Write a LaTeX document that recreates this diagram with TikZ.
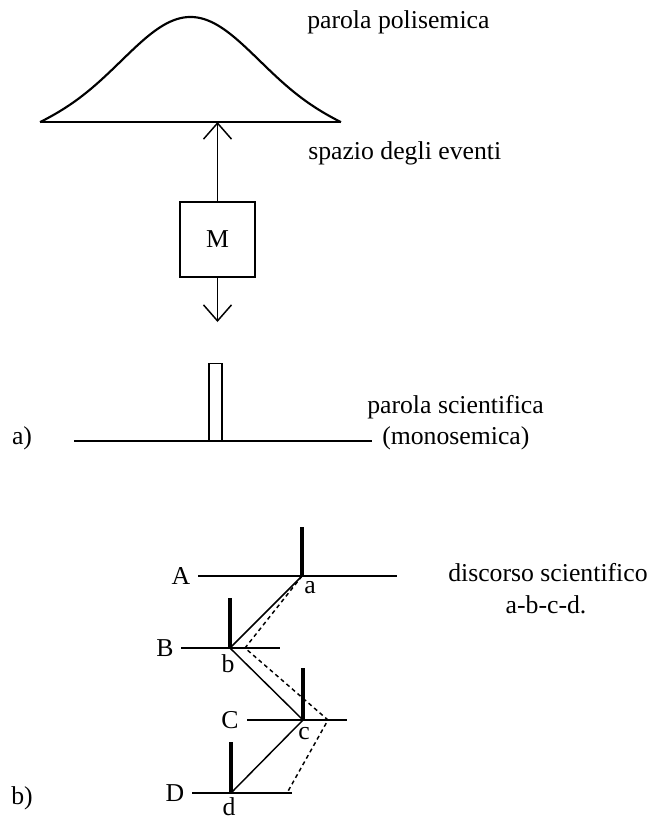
\documentclass[tikz,border=0pt]{standalone}
\usepackage{fontspec}
\setmainfont{Liberation Serif}
\usetikzlibrary{arrows.meta}
\begin{document}
\begin{tikzpicture}[x=0.75pt,y=-0.75pt,
  txt/.style={font=\fontsize{19.3}{22}\selectfont, inner sep=0pt},
  thinline/.style={line width=1.1pt},
  curve/.style={line width=1.6pt},
  bar/.style={line width=2.4pt},
  barb/.style={thinline,-{Straight Barb[length=12pt,width=21pt,line width=1.1pt]}},
  dashline/.style={thinline,dashed,dash pattern=on 3pt off 2.5pt}
]
\useasboundingbox (0,0) rectangle (650,821);

% --- part a) top: polysemic word
\draw[curve] plot[domain=-150.5:150.5, samples=121, smooth]
  ({190.5+\x},{122-105*exp(-0.5*(\x/67)*(\x/67))+8.6*pow(abs(\x)/150.5,4)});
\coordinate (bl) at (40,122);
\coordinate (br) at (341,122);
\coordinate (base) at (217.5,122);
\draw[curve] (bl) -- (br);

\node[draw, thinline, minimum width=56.25pt, minimum height=56.25pt, inner sep=0pt,
      txt] (M) at (217.5,239.5) {M};
\coordinate (down) at (217.5,322);
\draw[barb] (M.north) -- (base);
\draw[barb] (M.south) -- (down);

\node[txt, anchor=west] (pp) at (307,22) {parola polisemica};
\node[txt, anchor=west] (se) at (308,153) {spazio degli eventi};

% --- scientific word
\coordinate (al) at (74,441);
\coordinate (ar) at (372,441);
\draw[thinline] (al) -- (ar);
\node[draw, thinline, minimum width=9.75pt, minimum height=57.75pt, inner sep=0pt,
      anchor=south] (spike) at (215.5,441) {};
\node[txt, anchor=west] (ps) at (367,407) {parola scientifica};
\node[txt, anchor=west] (mo) at (382,438) {(monosemica)};
\node[txt] (la) at (22,438) {a)};

% --- part b)
\coordinate (a) at (302,576);
\coordinate (b) at (230,648);
\coordinate (c) at (303,720);
\coordinate (d) at (231,793);
\coordinate (at) at (302,527);
\coordinate (bt) at (230,598);
\coordinate (ct) at (303,668);
\coordinate (dt) at (231,742);

\coordinate (Al) at (198,576);  \coordinate (Ar) at (397,576);
\coordinate (Bl) at (181,648);  \coordinate (Br) at (280,648);
\coordinate (Cl) at (247,720);  \coordinate (Cr) at (347,720);
\coordinate (Dl) at (192,793);  \coordinate (Dr) at (292,793);
\draw[thinline] (Al) -- (Ar);
\draw[thinline] (Bl) -- (Br);
\draw[thinline] (Cl) -- (Cr);
\draw[thinline] (Dl) -- (Dr);

\draw[bar] (a) -- (at);
\draw[bar] (b) -- (bt);
\draw[bar] (c) -- (ct);
\draw[bar] (d) -- (dt);

\draw[thinline] (a) -- (b) -- (c) -- (d);

\coordinate (b2) at (245,648);
\coordinate (c2) at (328,720);
\coordinate (d2) at (287,793);
\draw[dashline] (a) -- (b2) -- (c2) -- (d2);

\node[txt] (LA) at (181,576) {A};
\node[txt] (LB) at (165,648) {B};
\node[txt] (LC) at (230,720) {C};
\node[txt] (LD) at (175,793) {D};
\node[txt] (la2) at (310,588) {a};
\node[txt] (lb2) at (228,664) {b};
\node[txt] (lc2) at (304,734) {c};
\node[txt] (ld2) at (229,807) {d};

\node[txt, anchor=west] (ds) at (448,573) {discorso scientifico};
\node[txt] (abcd) at (546,605) {a-b-c-d.};
\node[txt] (lb) at (22,798) {b)};
\end{tikzpicture}
\end{document}
